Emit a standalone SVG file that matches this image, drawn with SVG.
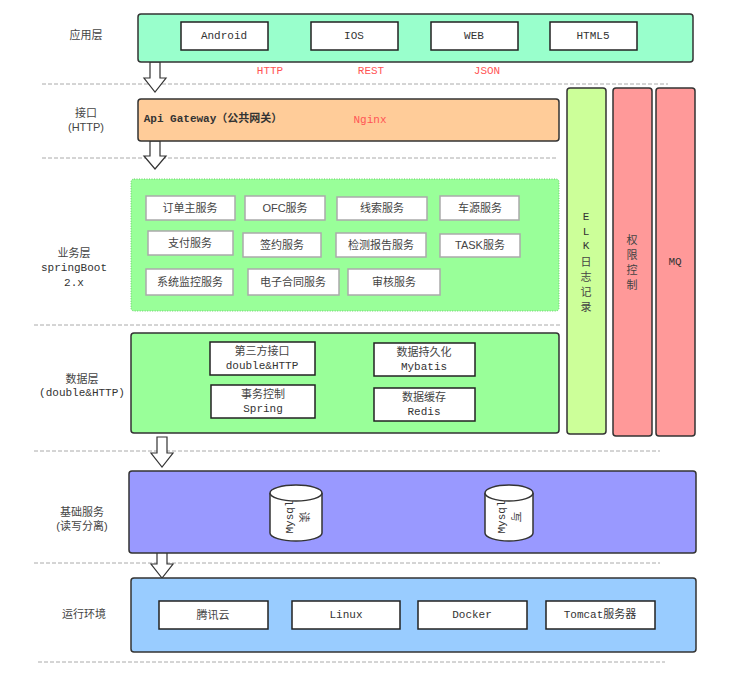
<svg xmlns="http://www.w3.org/2000/svg" width="744" height="684" viewBox="0 0 744 684">
<style>
text{font-family:"Liberation Mono","Noto Sans CJK SC",monospace;font-size:11px;fill:#333;text-anchor:middle;dominant-baseline:central}
.lbl{font-family:"Liberation Sans","Noto Sans CJK SC",sans-serif;fill:#444}
.layer{stroke:#333;stroke-width:1.5}
.box{fill:#fff;stroke:#222;stroke-width:1.5}
.sbox{fill:#fff;stroke:#aaa;stroke-width:1.5}
.red{fill:#ff5555}
.dash{stroke:#aaa;stroke-dasharray:4 2;stroke-width:1;fill:none}
.arr{fill:#fff;stroke:#333;stroke-width:1.2}
</style>
<g id="guides">
<path class="dash" d="M42 84H668M42 158H556M34 325H560M34 451H660M34 563H660M38 662H665"/>
<text class="lbl" x="86" y="35">应用层</text>
<text class="lbl" x="86" y="113">接口</text><text class="lbl" x="86" y="127">(HTTP)</text>
<text class="lbl" x="74" y="253">业务层</text><text x="74" y="268">springBoot</text><text x="74" y="283">2.x</text>
<text class="lbl" x="82" y="379">数据层</text><text x="82" y="393">(double&amp;HTTP)</text>
<text class="lbl" x="82" y="512">基础服务</text><text class="lbl" x="82" y="526">(读写分离)</text>
<text class="lbl" x="84" y="614">运行环境</text>
</g>
<g id="connectors">
<path class="arr" d="M150 62h10v16h6l-11 14l-11-14h6z"/>
<path class="arr" d="M150 141h10v15h6l-11 13l-11-13h6z"/>
<path class="arr" d="M157 437h10v16h6l-11 14l-11-14h6z"/>
<path class="arr" d="M157 548h10v16h6l-11 14l-11-14h6z"/>
</g>
<g id="app">
<rect class="layer" x="138" y="14" width="555" height="48" rx="3" fill="#99ffcc"/>
<rect class="box" x="181" y="22" width="87" height="28"/><text x="224" y="36">Android</text>
<rect class="box" x="311" y="22" width="87" height="28"/><text x="354" y="36">IOS</text>
<rect class="box" x="431" y="22" width="87" height="28"/><text x="474" y="36">WEB</text>
<rect class="box" x="550" y="22" width="87" height="28"/><text x="593" y="36">HTML5</text>
<text class="red" x="270" y="71">HTTP</text><text class="red" x="371" y="71">REST</text><text class="red" x="487" y="71">JSON</text>
</g>
<g id="gateway">
<rect class="layer" x="138" y="99" width="421" height="42" rx="3" fill="#ffcc99"/>
<text x="213" y="119" font-weight="bold">Api Gateway（公共网关）</text>
<text class="red" x="370" y="120">Nginx</text>
</g>
<g id="elk">
<rect class="layer" x="567" y="88" width="39" height="346" rx="3" fill="#ccff99"/>
<text x="586" y="217">E</text><text x="586" y="232">L</text><text x="586" y="246">K</text>
<text class="lbl" x="586" y="262">日</text><text class="lbl" x="586" y="277">志</text><text class="lbl" x="586" y="292">记</text><text class="lbl" x="586" y="307">录</text>
</g>
<g id="auth">
<rect class="layer" x="613" y="88" width="39" height="348" rx="3" fill="#ff9999"/>
<text class="lbl" x="632" y="240">权</text><text class="lbl" x="632" y="255">限</text><text class="lbl" x="632" y="270">控</text><text class="lbl" x="632" y="285">制</text>
</g>
<g id="mq">
<rect class="layer" x="656" y="88" width="39" height="348" rx="3" fill="#ff9999"/>
<text x="675" y="262">MQ</text>
</g>
<g id="business">
<rect x="131" y="179" width="428" height="132" rx="3" fill="#99ff99" stroke="#66cc66" stroke-dasharray="1 1.5"/>
<g class="lbl">
<rect class="sbox" x="146" y="196" width="89" height="24"/><text class="lbl" x="190" y="208">订单主服务</text>
<rect class="sbox" x="245" y="196" width="80" height="24"/><text class="lbl" x="285" y="208">OFC服务</text>
<rect class="sbox" x="337" y="197" width="90" height="23"/><text class="lbl" x="382" y="208">线索服务</text>
<rect class="sbox" x="440" y="196" width="79" height="24"/><text class="lbl" x="480" y="208">车源服务</text>
<rect class="sbox" x="148" y="231" width="85" height="24"/><text class="lbl" x="190" y="243">支付服务</text>
<rect class="sbox" x="243" y="233" width="78" height="24"/><text class="lbl" x="282" y="245">签约服务</text>
<rect class="sbox" x="336" y="233" width="90" height="24"/><text class="lbl" x="381" y="245">检测报告服务</text>
<rect class="sbox" x="440" y="234" width="80" height="23"/><text class="lbl" x="480" y="245">TASK服务</text>
<rect class="sbox" x="146" y="269" width="87" height="26"/><text class="lbl" x="190" y="282">系统监控服务</text>
<rect class="sbox" x="248" y="269" width="91" height="26"/><text class="lbl" x="293" y="282">电子合同服务</text>
<rect class="sbox" x="348" y="269" width="92" height="26"/><text class="lbl" x="394" y="282">审核服务</text>
</g>
</g>
<g id="data">
<rect class="layer" x="131" y="333" width="428" height="100" rx="3" fill="#99ff99"/>
<rect class="box" x="210" y="342" width="105" height="33"/><text class="lbl" x="262" y="351">第三方接口</text><text x="262" y="366">double&amp;HTTP</text>
<rect class="box" x="374" y="343" width="101" height="33"/><text class="lbl" x="424" y="352">数据持久化</text><text x="424" y="367">Mybatis</text>
<rect class="box" x="211" y="385" width="104" height="33"/><text class="lbl" x="263" y="394">事务控制</text><text x="263" y="409">Spring</text>
<rect class="box" x="374" y="388" width="101" height="33"/><text class="lbl" x="424" y="397">数据缓存</text><text x="424" y="412">Redis</text>
</g>
<g id="basic">
<rect class="layer" x="129" y="471" width="567" height="82" rx="3" fill="#9999ff"/>
<path d="M270 493v40a26 8 0 0 0 52 0v-40" fill="#fff" stroke="#333" stroke-width="1.5"/>
<ellipse cx="296" cy="493" rx="26" ry="8" fill="#fff" stroke="#333" stroke-width="1.5"/>
<text transform="translate(290 517) rotate(-90)">Mysql</text><text class="lbl" transform="translate(304 517) rotate(90)">读</text>
<path d="M485 493v40a24 8 0 0 0 48 0v-40" fill="#fff" stroke="#333" stroke-width="1.5"/>
<ellipse cx="509" cy="493" rx="24" ry="8" fill="#fff" stroke="#333" stroke-width="1.5"/>
<text transform="translate(502 517) rotate(-90)">Mysql</text><text class="lbl" transform="translate(516 517) rotate(90)">写</text>
</g>
<g id="runtime">
<rect class="layer" x="131" y="578" width="565" height="74" rx="3" fill="#99ccff"/>
<rect class="box" x="159" y="601" width="109" height="28"/><text class="lbl" x="213" y="615">腾讯云</text>
<rect class="box" x="292" y="601" width="108" height="28"/><text x="346" y="615">Linux</text>
<rect class="box" x="418" y="601" width="109" height="28"/><text x="472" y="615">Docker</text>
<rect class="box" x="546" y="601" width="109" height="28"/><text x="600" y="615">Tomcat服务器</text>
</g>
</svg>
